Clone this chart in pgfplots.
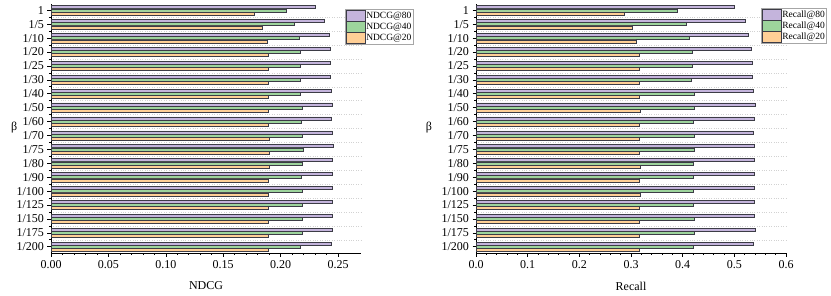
\documentclass[border=0pt]{standalone}
\usepackage{fontspec}
\setmainfont{Liberation Serif}
\usepackage{pgfplots}
\usepackage{pgfplotstable}
\pgfplotsset{compat=1.18}
\definecolor{cP}{HTML}{C4B4DC}
\definecolor{cG}{HTML}{9DD49C}
\definecolor{cO}{HTML}{FFCF96}
\definecolor{cE}{HTML}{3C3C46}

\pgfplotstableread{
y n80 n40 n20
17 0.230 0.205 0.177
16 0.238 0.212 0.184
15 0.242 0.2165 0.188
14 0.243 0.217 0.189
13 0.243 0.217 0.189
12 0.243 0.217 0.189
11 0.244 0.2168 0.1893
10 0.245 0.219 0.1895
9 0.2445 0.218 0.1895
8 0.245 0.219 0.190
7 0.2456 0.2195 0.190
6 0.245 0.2185 0.1898
5 0.2447 0.218 0.1895
4 0.245 0.2185 0.1895
3 0.245 0.2185 0.1895
2 0.245 0.2185 0.1895
1 0.245 0.219 0.1895
0 0.244 0.2175 0.1895
}\ndcg

\pgfplotstableread{
y r80 r40 r20
17 0.500 0.389 0.287
16 0.521 0.406 0.302
15 0.527 0.412 0.310
14 0.532 0.418 0.315
13 0.534 0.419 0.315
12 0.534 0.417 0.315
11 0.536 0.422 0.315
10 0.540 0.423 0.317
9 0.538 0.420 0.315
8 0.537 0.422 0.315
7 0.539 0.422 0.315
6 0.539 0.421 0.317
5 0.538 0.421 0.315
4 0.539 0.421 0.317
3 0.539 0.421 0.316
2 0.539 0.422 0.316
1 0.540 0.423 0.316
0 0.537 0.420 0.315
}\recall

\pgfplotsset{
  mylegimg/.style={legend image code/.code={\draw[##1,line width=0.5pt] (0pt,-5.3pt) rectangle (19pt,5.3pt);}},
  common/.style={
    scale only axis, width=310pt, height=249pt,
    xbar, bar width=3pt,
    axis lines=left, axis line style={-, line width=0.8pt},
    tick align=outside,
    major tick length=3.5pt, minor tick length=2pt,
    every tick/.style={black, line width=0.6pt},
    ymin=-0.45, ymax=17.45,
    ytick={0,...,17},
    yticklabels={1/200,1/175,1/150,1/125,1/100,1/90,1/80,1/75,1/70,1/60,1/50,1/40,1/30,1/25,1/20,1/10,1/5,1},
    minor ytick={0.5,1.5,...,16.5},
    yminorgrids=true,
    minor y grid style={gray!35, dotted, line width=0.5pt},
    minor x tick num=4,
    scaled x ticks=false,
    xmin=0,
    /pgf/number format/assume math mode=true,
    tick label style={font=\fontsize{12}{13}\selectfont},
    label style={font=\fontsize{12}{13}\selectfont},
    ylabel={β},
    xlabel style={at={(axis description cs:0.5,0)}, anchor=center, yshift=-33pt},
    legend cell align=left,
    legend style={draw=gray!70, fill=white, line width=0.6pt,
      font=\fontsize{9.5}{10.6}\selectfont, inner sep=1pt, row sep=0pt,
      nodes={inner sep=0.6pt},
      /tikz/every even column/.append style={column sep=1pt}},
  }
}

\begin{document}
\begin{tikzpicture}
\useasboundingbox (0,0) rectangle (831pt,295pt);
\begin{axis}[common, at={(51pt,42pt)}, anchor=south west,
  xmax=0.27, xtick={0,0.05,...,0.25},
  xticklabel style={/pgf/number format/fixed, /pgf/number format/fixed zerofill, /pgf/number format/precision=2},
  xlabel={NDCG},
  ylabel style={at={(axis description cs:-0.119,0.502)}, rotate=-90, anchor=center},
  legend style={at={(rel axis cs:0.948,0.98)}, anchor=north west}]
\addplot[fill=cP, draw=cE, line width=0.5pt, bar shift=3.2pt, mylegimg] table[x=n80, y=y] {\ndcg};
\addplot[fill=cG, draw=cE, line width=0.5pt, bar shift=0pt, mylegimg] table[x=n40, y=y] {\ndcg};
\addplot[fill=cO, draw=cE, line width=0.5pt, bar shift=-3.2pt, mylegimg] table[x=n20, y=y] {\ndcg};
\legend{NDCG@80, NDCG@40, NDCG@20}
\end{axis}
\begin{axis}[common, at={(476pt,42pt)}, anchor=south west,
  xmax=0.6, xtick={0,0.1,...,0.6},
  xticklabel style={/pgf/number format/fixed, /pgf/number format/fixed zerofill, /pgf/number format/precision=1},
  xlabel={Recall},
  ylabel style={at={(axis description cs:-0.152,0.502)}, rotate=-90, anchor=center},
  legend style={at={(rel axis cs:0.919,0.985)}, anchor=north west}]
\addplot[fill=cP, draw=cE, line width=0.5pt, bar shift=3.2pt, mylegimg] table[x=r80, y=y] {\recall};
\addplot[fill=cG, draw=cE, line width=0.5pt, bar shift=0pt, mylegimg] table[x=r40, y=y] {\recall};
\addplot[fill=cO, draw=cE, line width=0.5pt, bar shift=-3.2pt, mylegimg] table[x=r20, y=y] {\recall};
\legend{Recall@80, Recall@40, Recall@20}
\end{axis}
\end{tikzpicture}
\end{document}
